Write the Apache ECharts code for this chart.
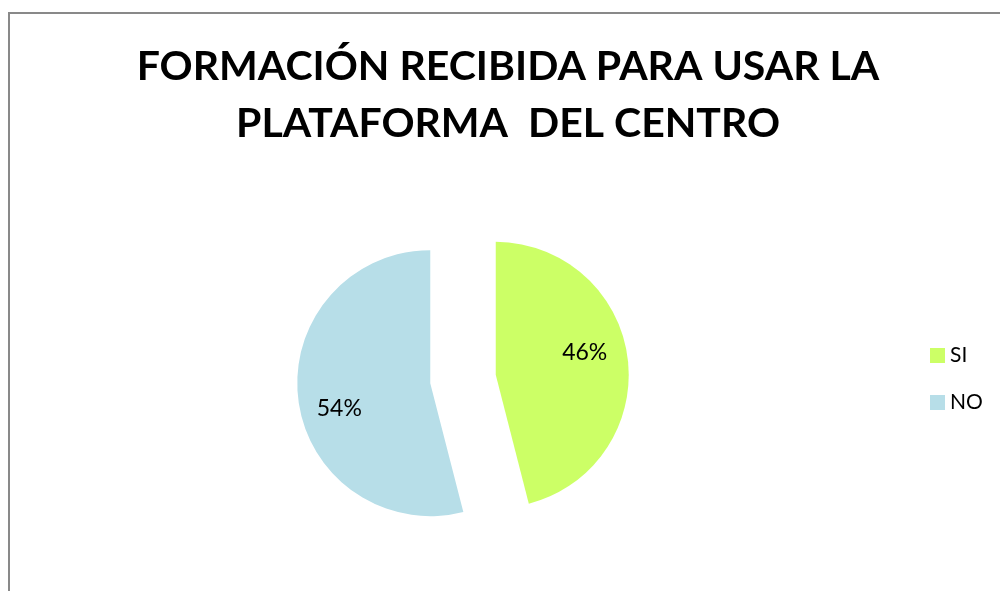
<!DOCTYPE html>
<html>
<head>
<meta charset="utf-8">
<script src="https://cdn.jsdelivr.net/npm/echarts@6/dist/echarts.min.js"></script>
<style>
  html, body { margin: 0; padding: 0; background: #fff; }
  #main { width: 1000px; height: 591px; }
</style>
</head>
<body>
<div id="main"></div>
<script>
var categories = ['SI', 'NO'];
var values = [46, 54];
var colors = ['#CCFF66', '#B7DEE8'];
// nudges of the % labels away from the default inside spot
var labelShift = [[20, -14], [-22, 17]];

var chart = echarts.init(document.getElementById('main'));

var pieData = categories.map(function (name, i) {
  return {
    name: name,
    value: values[i],
    selected: true,
    itemStyle: { color: colors[i] }
  };
});

chart.setOption({
  animation: false,
  title: {
    text: 'FORMACIÓN RECIBIDA PARA USAR LA\nPLATAFORMA  DEL CENTRO',
    left: 503,
    top: 33,
    textAlign: 'center',
    textStyle: {
      fontFamily: 'Lato',
      fontWeight: 'bold',
      fontSize: 41,
      lineHeight: 57,
      color: '#000'
    }
  },
  legend: {
    orient: 'vertical',
    left: 925,
    top: 340,
    itemWidth: 15,
    itemHeight: 15,
    itemGap: 26,
    icon: 'rect',
    selectedMode: false,
    data: categories,
    textStyle: { fontFamily: 'Lato', fontSize: 21, color: '#000' }
  },
  graphic: [{
    type: 'rect',
    shape: { x: 9, y: 13, width: 1000, height: 600 },
    style: { fill: null, stroke: '#898989', lineWidth: 2 },
    silent: true,
    z: -10
  }],
  series: [{
    type: 'pie',
    center: [463, 379],
    radius: 133,
    startAngle: 90,
    clockwise: true,
    selectedMode: 'multiple',
    selectedOffset: 33,
    emphasis: { disabled: true },
    label: {
      position: 'inside',
      formatter: '{d}%',
      fontFamily: 'Lato',
      fontSize: 23,
      color: '#000'
    },
    labelLine: { show: false },
    labelLayout: function (params) {
      var s = labelShift[params.dataIndex];
      return { dx: s[0], dy: s[1] };
    },
    data: pieData
  }]
});
</script>
</body>
</html>
